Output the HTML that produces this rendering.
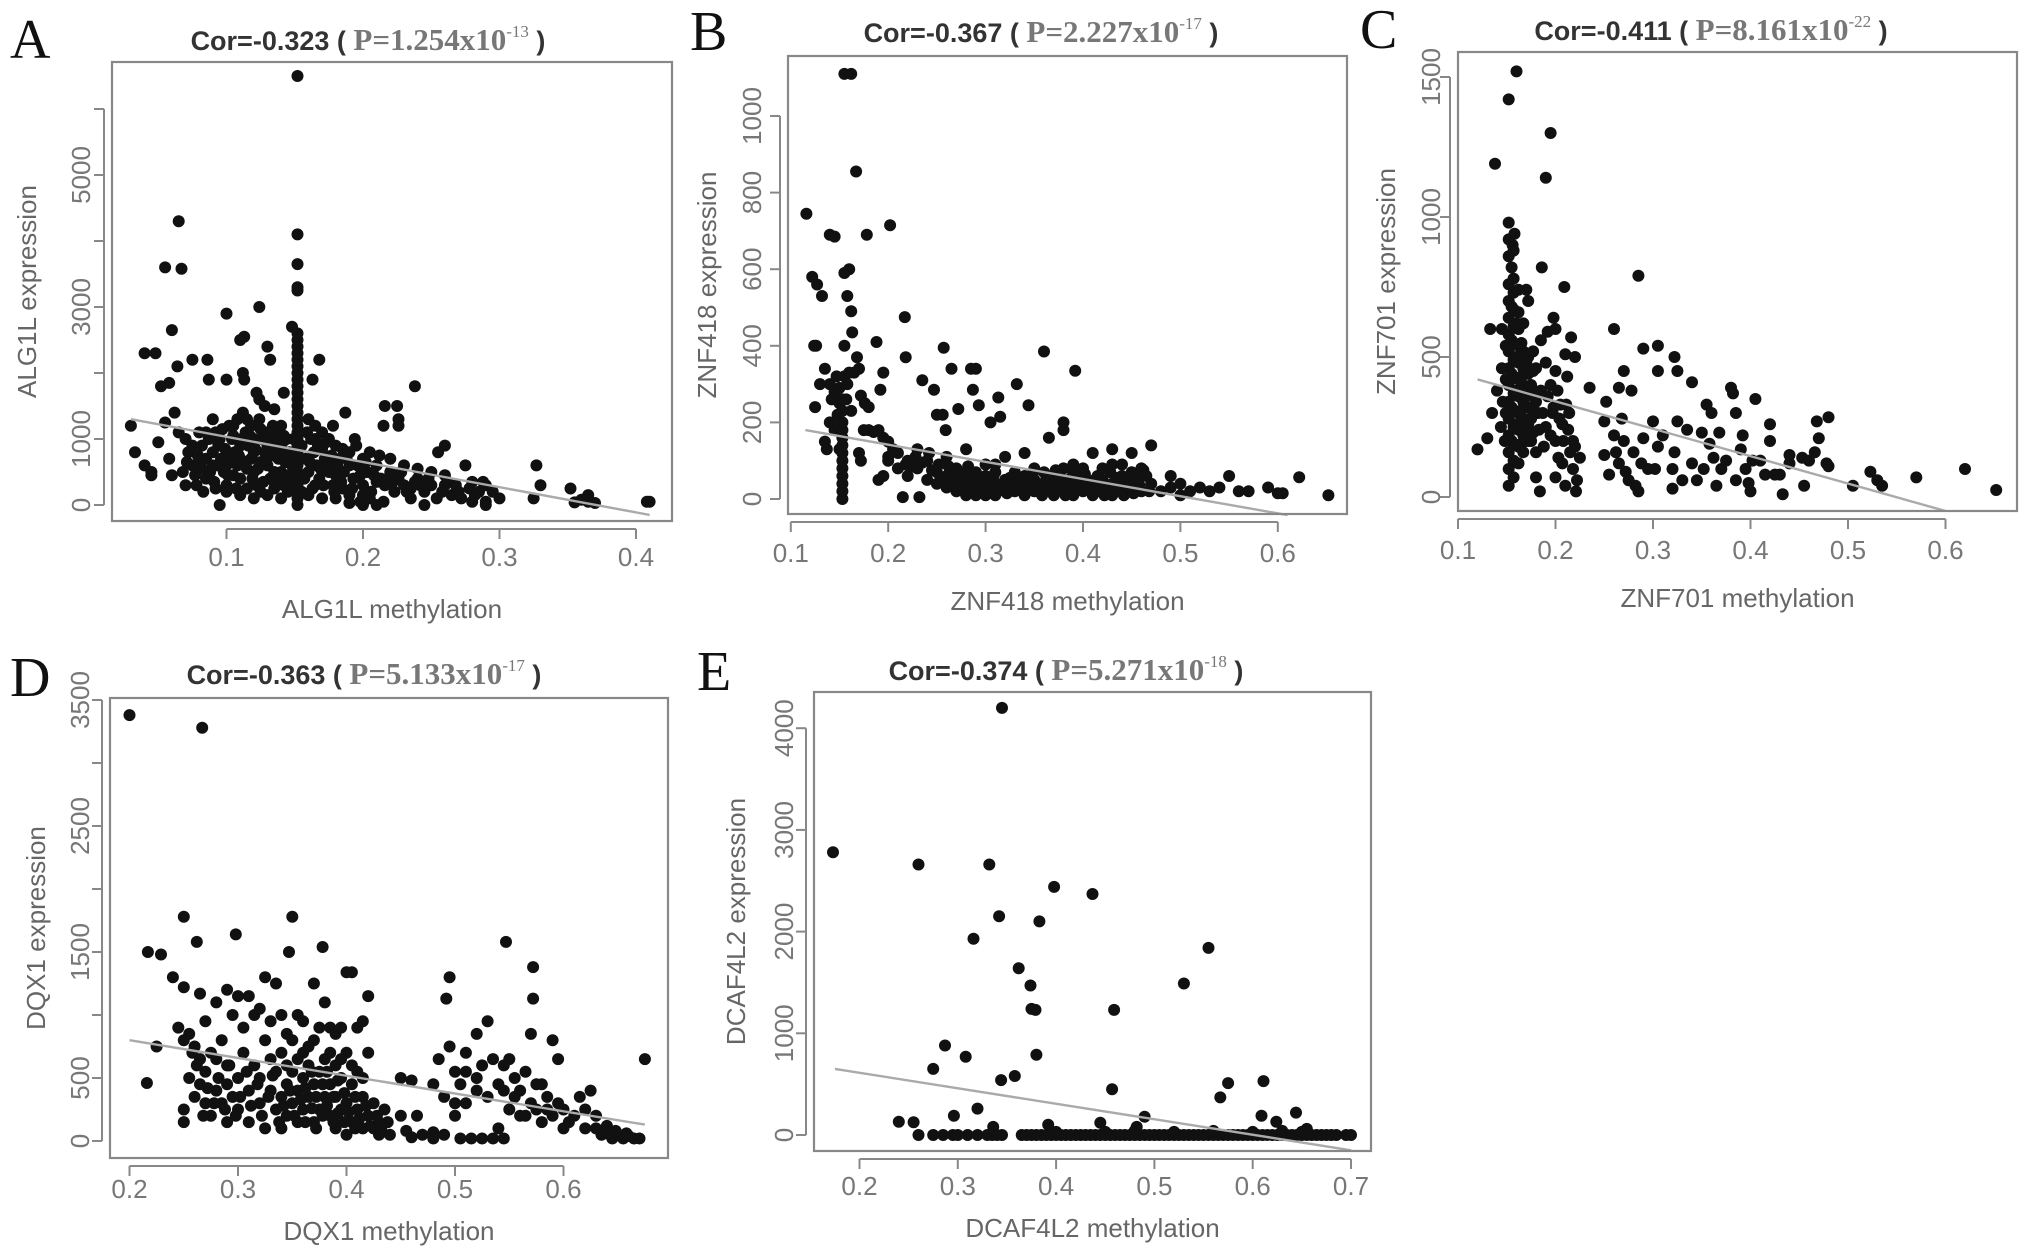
<!DOCTYPE html>
<html><head><meta charset="utf-8"><style>
html,body{margin:0;padding:0;background:#fff;}
svg{display:block;}
</style></head><body>
<svg id="fig" width="2031" height="1258" viewBox="0 0 2031 1258" xmlns="http://www.w3.org/2000/svg"></svg>
<script>
// ---------- DATA ----------
const aXTicks=[0.1,0.2,0.3,0.4];
const aYTicks=[0,1000,2000,3000,4000,5000,6000];
const aYLabelsFix=["0","1000","","3000","","5000",""];
const aPts=[[0.152,6500],[0.065,4300],[0.152,4100],[0.055,3600],[0.067,3580],[0.152,3650],[0.152,3300],[0.152,3250],[0.1,2900],[0.124,3000],[0.148,2700],[0.06,2650],[0.113,2550],[0.11,2500],[0.13,2400],[0.04,2300],[0.048,2300],[0.064,2100],[0.075,2200],[0.086,2200],[0.132,2200],[0.168,2200],[0.087,1900],[0.1,1900],[0.113,1900],[0.112,2000],[0.163,1900],[0.052,1800],[0.058,1850],[0.142,1700],[0.238,1800],[0.124,1600],[0.216,1500],[0.225,1500],[0.187,1400],[0.215,1200],[0.226,1300],[0.226,1200],[0.178,1200],[0.26,900],[0.255,800],[0.275,600],[0.327,600],[0.33,300],[0.352,250],[0.365,150],[0.41,50],[0.408,50],[0.03,1200],[0.033,800],
[0.152,0],[0.152,100],[0.152,200],[0.152,300],[0.152,400],[0.152,500],[0.152,600],[0.152,700],[0.152,800],[0.152,900],[0.152,1000],[0.152,1100],[0.152,1200],[0.152,1300],[0.152,1400],[0.152,1500],[0.152,1600],[0.152,1700],[0.152,1800],[0.152,1900],[0.152,2000],[0.152,2100],[0.152,2200],[0.152,2300],[0.152,2400],[0.152,2500],
[0.07,1000],[0.072,800],[0.075,600],[0.078,300],[0.08,1100],[0.082,900],[0.085,700],[0.088,500],[0.09,1300],[0.092,1100],[0.094,900],[0.096,700],[0.098,500],[0.1,300],[0.102,1200],[0.104,1000],[0.106,800],[0.108,600],[0.11,400],[0.112,1400],[0.114,1100],[0.116,900],[0.118,700],[0.12,500],[0.122,300],[0.124,1300],[0.126,1000],[0.128,800],[0.13,600],[0.132,400],[0.134,1200],[0.136,900],[0.138,700],[0.14,500],[0.142,300],[0.144,1000],[0.146,800],[0.148,600],[0.16,1300],[0.162,1000],[0.164,800],[0.166,600],[0.168,400],[0.17,1100],[0.172,700],[0.175,500],[0.178,300],[0.18,900],[0.183,700],[0.186,500],[0.19,800],[0.193,400],[0.196,600],[0.2,300],[0.2,700],[0.203,500],[0.206,200],[0.21,600],[0.213,400],[0.216,300],[0.22,500],[0.223,200],[0.226,400],[0.23,300],[0.235,250],[0.24,400],[0.245,200],[0.25,300],[0.254,100],[0.26,300],[0.27,200],[0.285,200],[0.29,0],[0.295,200],[0.28,50],[0.21,0],[0.2,0],[0.215,50],[0.245,0],[0.235,100],
[0.045,500],[0.05,950],[0.055,1250],[0.058,700],[0.062,1400],[0.065,1100],[0.068,500],[0.04,600],[0.045,450],[0.06,450],[0.07,300],[0.095,0],[0.12,100],[0.13,150],[0.14,100],[0.145,200],[0.17,100],[0.18,100],
[0.075,900],[0.08,650],[0.085,400],[0.09,800],[0.095,1000],[0.1,600],[0.105,450],[0.11,900],[0.115,550],[0.12,800],[0.125,650],[0.13,900],[0.135,500],[0.14,800],[0.145,650],[0.155,900],[0.158,700],[0.16,500],[0.165,1000],[0.17,850],[0.175,650],[0.18,450],[0.185,850],[0.19,600],[0.195,900],[0.2,500],[0.205,800],[0.21,350],[0.09,600],[0.1,800],[0.11,700],[0.12,1000],[0.13,1100],[0.14,1200],[0.108,1300],[0.118,1200],[0.128,1500],[0.122,1700],[0.135,1450],[0.165,1200],[0.175,1000],[0.155,200],[0.16,150],[0.165,300],[0.185,250],[0.19,150],[0.2,150],[0.25,500],[0.24,550],[0.22,700],[0.23,600],[0.26,450],[0.265,150],[0.28,350],[0.29,300],[0.365,50],[0.36,80],[0.355,40],[0.37,30],[0.325,100],[0.29,50],[0.3,100],
[0.077,450],[0.083,200],[0.087,1000],[0.091,350],[0.093,600],[0.097,1150],[0.099,850],[0.101,450],[0.103,650],[0.105,1050],[0.107,250],[0.109,750],[0.111,1000],[0.113,600],[0.115,250],[0.117,1050],[0.119,400],[0.121,850],[0.123,550],[0.125,1150],[0.127,350],[0.129,700],[0.131,1000],[0.133,750],[0.135,250],[0.137,1050],[0.139,400],[0.141,950],[0.143,650],[0.147,350],[0.149,1000],[0.157,400],[0.159,1100],[0.161,650],[0.163,250],[0.167,900],[0.169,550],[0.171,300],[0.173,950],[0.177,750],[0.179,200],[0.181,600],[0.184,350],[0.188,700],[0.192,250],[0.194,1000],[0.198,450],[0.202,650],[0.208,450],[0.212,750],[0.218,400],[0.222,350],[0.228,500],[0.232,200],[0.238,350],[0.242,300],[0.248,400],[0.258,200],[0.262,350],[0.268,300],[0.272,100],[0.278,250],[0.282,150],[0.288,350],[0.198,50],[0.19,30],[0.205,100],[0.11,150],[0.1,200],[0.125,200],[0.135,350],[0.145,450],[0.092,250],[0.082,550],[0.071,650],[0.079,750],[0.085,1100],[0.105,1200],[0.115,1300],[0.142,1050],[0.152,2600]];
const aLine=[[0.03,1300],[0.41,-150]];

const bXTicks=[0.1,0.2,0.3,0.4,0.5,0.6];
const bYTicks=[0,200,400,600,800,1000];
const bYLabels=["0","200","400","600","800","1000"];
const bPts=[[0.155,1110],[0.162,1110],[0.167,855],[0.116,745],[0.202,715],[0.14,690],[0.145,685],[0.178,690],[0.122,580],[0.127,560],[0.155,590],[0.16,600],[0.132,530],[0.158,530],[0.162,490],[0.217,475],[0.163,435],[0.188,410],[0.124,400],[0.126,400],[0.257,395],[0.36,385],[0.218,370],[0.168,370],[0.392,335],[0.155,400],[0.195,330],[0.265,340],[0.285,340],[0.29,340],[0.235,310],[0.332,300],[0.192,285],[0.247,285],[0.287,285],[0.313,265],[0.344,245],[0.272,235],[0.293,245],[0.125,240],[0.25,220],[0.256,220],[0.315,215],[0.305,200],[0.38,200],[0.38,180],[0.259,180],[0.365,160],[0.47,140],[0.43,130],[0.34,120],[0.41,120],[0.45,120],
[0.135,340],[0.14,300],[0.145,280],[0.15,250],[0.148,220],[0.152,200],[0.155,320],[0.158,300],[0.16,330],[0.165,330],[0.17,340],[0.172,270],[0.176,250],[0.18,240],[0.14,200],[0.135,150],[0.137,130],[0.145,180],[0.15,130],[0.142,260],[0.147,320],[0.15,290],[0.157,260],[0.162,230],[0.13,300],
[0.153,0],[0.153,20],[0.153,40],[0.153,60],[0.153,80],[0.153,100],[0.153,120],[0.153,140],[0.153,160],[0.153,180],[0.153,200],[0.153,230],[0.153,260],
[0.175,180],[0.18,180],[0.185,175],[0.19,180],[0.195,160],[0.2,110],[0.19,50],[0.195,60],[0.17,120],[0.172,100],
[0.2,100],[0.2,150],[0.21,80],[0.21,120],[0.215,5],[0.22,60],[0.22,100],[0.23,80],[0.23,130],[0.232,5],[0.24,50],[0.24,100],[0.25,40],[0.25,70],[0.26,30],[0.26,60],[0.26,110],[0.27,20],[0.27,50],[0.27,80],[0.28,10],[0.28,40],[0.28,70],[0.28,130],[0.29,10],[0.29,40],[0.29,70],[0.3,10],[0.3,30],[0.3,60],[0.3,90],[0.31,10],[0.31,40],[0.31,70],[0.32,20],[0.32,50],[0.32,110],[0.33,20],[0.33,40],[0.33,70],[0.34,10],[0.34,40],[0.34,60],[0.35,20],[0.35,50],[0.36,20],[0.36,40],[0.36,70],[0.37,10],[0.37,40],[0.37,60],[0.38,20],[0.38,50],[0.38,80],[0.39,10],[0.39,40],[0.39,90],[0.4,20],[0.4,50],[0.4,80],[0.41,10],[0.41,40],[0.42,20],[0.42,50],[0.43,10],[0.43,40],[0.43,90],[0.44,20],[0.44,60],[0.45,30],[0.45,70],[0.46,20],[0.46,60],[0.47,40],[0.48,20],[0.49,30],[0.49,60],[0.5,10],[0.5,40],[0.51,20],[0.52,30],[0.53,20],[0.54,30],[0.55,60],[0.56,20],[0.57,20],[0.59,30],[0.6,15],[0.605,15],[0.622,57],[0.652,10],
[0.295,25],[0.305,45],[0.315,25],[0.325,55],[0.335,30],[0.345,45],[0.355,30],[0.365,55],[0.375,25],[0.385,35],[0.395,60],[0.405,30],[0.415,60],[0.425,30],[0.435,55],[0.445,35],[0.455,45],[0.465,60],[0.285,55],[0.275,60],[0.265,45],[0.255,55],[0.245,75],[0.235,95],[0.225,85],
[0.298,50],[0.302,20],[0.308,60],[0.312,30],[0.318,40],[0.322,15],[0.328,35],[0.332,55],[0.338,20],[0.342,30],[0.348,65],[0.352,35],[0.358,10],[0.362,50],[0.368,25],[0.372,75],[0.378,35],[0.382,10],[0.388,55],[0.392,25],[0.398,35],[0.402,65],[0.408,25],[0.412,50],[0.418,35],[0.422,10],[0.428,70],[0.432,25],[0.438,40],[0.442,10],[0.448,50],[0.452,15],[0.458,35],[0.462,75],[0.468,20],[0.288,25],[0.282,85],[0.278,30],[0.268,65],[0.262,85],[0.252,90],[0.242,120],[0.228,110],[0.218,90],[0.205,130],[0.31,90],[0.35,80],[0.39,70],[0.42,80],[0.44,90],[0.46,80]];
const bLine=[[0.115,180],[0.61,-42]];

const cXTicks=[0.1,0.2,0.3,0.4,0.5,0.6];
const cYTicks=[0,500,1000,1500];
const cYLabels=["0","500","1000","1500"];
const cPts=[[0.16,1520],[0.152,1420],[0.195,1300],[0.138,1190],[0.19,1140],[0.285,790],[0.186,820],[0.209,750],[0.26,600],[0.198,640],[0.133,600],[0.145,600],[0.29,530],[0.305,540],[0.322,500],[0.325,450],[0.305,450],[0.235,390],[0.265,390],[0.27,450],[0.34,410],[0.38,390],[0.382,370],[0.405,350],[0.355,330],[0.36,300],[0.385,300],[0.42,260],[0.42,200],[0.468,270],[0.48,285],[0.47,210],[0.466,160],[0.478,120],[0.48,110],[0.453,140],[0.44,120],[0.43,80],[0.433,10],[0.4,20],[0.505,40],[0.523,90],[0.53,60],[0.535,40],[0.57,70],[0.62,100],[0.652,25],[0.12,170],[0.13,210],[0.135,300],[0.14,380],
[0.152,40],[0.152,100],[0.152,160],[0.152,220],[0.152,280],[0.152,340],[0.152,400],[0.152,460],[0.152,520],[0.152,580],[0.152,640],[0.152,700],[0.152,760],[0.152,860],[0.152,920],[0.152,980],
[0.157,70],[0.157,130],[0.157,190],[0.157,250],[0.157,310],[0.157,370],[0.157,430],[0.157,490],[0.157,550],[0.157,610],[0.157,670],[0.157,730],[0.157,780],[0.157,880],
[0.162,120],[0.162,180],[0.162,240],[0.162,300],[0.162,360],[0.162,420],[0.162,480],[0.162,540],[0.162,600],[0.162,660],[0.162,740],
[0.167,160],[0.167,220],[0.167,280],[0.167,340],[0.167,400],[0.167,460],[0.167,520],[0.167,620],[0.17,740],[0.172,700],
[0.172,200],[0.172,260],[0.172,320],[0.172,380],[0.172,440],[0.172,500],[0.177,230],[0.177,300],[0.177,370],[0.177,450],[0.177,520],[0.18,160],[0.18,70],[0.184,20],[0.182,300],[0.185,380],[0.185,560],[0.19,250],[0.19,480],[0.192,590],[0.195,400],[0.197,300],[0.2,200],[0.2,450],[0.2,600],[0.203,140],[0.205,330],[0.207,260],[0.21,510],[0.21,40],[0.212,430],[0.214,300],[0.216,570],[0.218,200],[0.218,100],[0.22,180],[0.22,500],[0.221,20],[0.222,60],[0.225,140],[0.2,70],[0.207,120],
[0.25,270],[0.25,150],[0.252,340],[0.255,80],[0.26,220],[0.262,160],[0.265,120],[0.268,280],[0.27,200],[0.272,90],[0.275,60],[0.278,380],[0.28,160],[0.282,40],[0.285,20],[0.288,120],[0.29,210],[0.295,100],[0.3,270],[0.302,100],[0.305,180],[0.31,220],[0.32,100],[0.32,30],[0.322,160],[0.325,270],[0.33,60],[0.335,240],[0.34,120],[0.345,60],[0.35,230],[0.352,100],[0.358,190],[0.362,140],[0.365,40],[0.368,230],[0.37,100],[0.375,130],[0.385,60],[0.39,170],[0.392,220],[0.395,100],[0.398,50],[0.402,130],[0.41,130],[0.415,80],[0.425,80],[0.44,150],[0.455,40],[0.46,130],
[0.149,300],[0.149,420],[0.149,540],[0.155,200],[0.155,320],[0.155,440],[0.155,560],[0.155,680],[0.155,820],[0.16,260],[0.16,380],[0.16,500],[0.16,620],[0.165,190],[0.165,310],[0.165,430],[0.165,550],[0.17,240],[0.17,360],[0.17,480],[0.175,280],[0.175,400],[0.175,200],[0.18,340],[0.18,460],[0.183,240],[0.187,300],[0.188,180],[0.192,360],[0.195,220],[0.198,320],[0.202,380],[0.204,280],[0.208,200],[0.211,330],[0.213,240],[0.215,160],[0.145,460],[0.146,340],[0.148,200],[0.144,250],[0.158,940],[0.156,900]];
const cLine=[[0.12,420],[0.6,-50]];

const dXTicks=[0.2,0.3,0.4,0.5,0.6];
const dYTicks=[0,500,1000,1500,2000,2500,3000,3500];
const dYLabels=["0","500","","1500","","2500","","3500"];
const dPts=[[0.2,3380],[0.267,3280],[0.25,1780],[0.35,1780],[0.298,1640],[0.262,1580],[0.547,1580],[0.217,1500],[0.229,1480],[0.347,1500],[0.378,1540],[0.572,1380],[0.4,1340],[0.405,1340],[0.495,1300],[0.24,1300],[0.25,1220],[0.265,1170],[0.42,1150],[0.492,1130],[0.572,1130],[0.216,460],[0.225,750],[0.675,650],
[0.245,900],[0.25,800],[0.255,850],[0.26,750],[0.265,650],[0.27,950],[0.275,700],[0.28,1100],[0.285,800],[0.29,1200],[0.29,600],[0.295,1000],[0.3,1150],[0.305,900],[0.31,1150],[0.315,1000],[0.32,1050],[0.325,1300],[0.33,950],[0.335,1250],[0.34,1000],[0.345,850],[0.355,1000],[0.36,950],[0.37,1250],[0.375,900],[0.38,1100],[0.385,900],[0.39,850],[0.395,900],[0.41,900],[0.415,950],
[0.25,150],[0.25,250],[0.255,500],[0.26,350],[0.265,450],[0.27,300],[0.27,550],[0.275,200],[0.28,400],[0.28,650],[0.285,300],[0.29,450],[0.29,150],[0.295,350],[0.3,500],[0.3,250],[0.305,700],[0.31,400],[0.31,150],[0.315,600],[0.32,300],[0.32,500],[0.325,800],[0.325,100],[0.33,400],[0.33,650],[0.335,250],[0.335,550],[0.34,100],[0.34,350],[0.34,700],[0.345,200],[0.345,450],[0.35,300],[0.35,550],[0.35,800],[0.355,150],[0.355,400],[0.36,250],[0.36,500],[0.36,700],[0.365,350],[0.365,600],[0.37,150],[0.37,450],[0.37,800],[0.375,250],[0.375,550],[0.38,350],[0.38,650],[0.385,200],[0.385,450],[0.39,100],[0.39,350],[0.39,600],[0.395,250],[0.395,500],[0.4,50],[0.4,300],[0.4,700],[0.405,150],[0.405,450],[0.41,250],[0.41,550],[0.415,100],[0.415,350],[0.42,200],[0.42,700],[0.425,100],[0.425,300],[0.43,50],[0.43,150],[0.435,250],[0.44,50],[0.45,200],[0.455,80],[0.46,30],[0.465,200],[0.47,50],[0.48,70],[0.45,500],[0.46,480],
[0.48,450],[0.485,650],[0.49,350],[0.495,750],[0.5,200],[0.5,550],[0.505,450],[0.505,20],[0.51,300],[0.51,700],[0.515,20],[0.52,500],[0.52,850],[0.525,600],[0.525,20],[0.53,350],[0.53,950],[0.535,650],[0.54,100],[0.54,450],[0.545,20],[0.545,400],[0.55,650],[0.55,250],[0.555,500],[0.56,200],[0.56,400],[0.565,550],[0.57,300],[0.57,850],[0.575,250],[0.58,450],[0.58,150],[0.585,350],[0.59,200],[0.59,800],[0.595,650],[0.6,250],[0.6,100],[0.61,200],[0.615,350],[0.62,100],[0.625,400],[0.63,200],[0.635,50],[0.64,120],[0.645,20],[0.65,50],[0.655,20],[0.66,40],[0.665,20],[0.67,20],[0.535,20],[0.48,20],[0.49,50],
[0.322,200],[0.328,350],[0.332,520],[0.338,150],[0.342,280],[0.348,400],[0.352,200],[0.358,330],[0.362,150],[0.362,420],[0.368,260],[0.368,550],[0.372,350],[0.372,100],[0.378,200],[0.378,450],[0.382,280],[0.382,550],[0.388,150],[0.388,350],[0.392,220],[0.392,480],[0.398,150],[0.398,380],[0.402,230],[0.408,100],[0.408,350],[0.412,180],[0.418,280],[0.422,120],[0.428,200],[0.432,100],[0.438,150],[0.312,280],[0.318,450],[0.308,550],[0.302,350],[0.298,200],[0.292,600],[0.288,250],[0.282,500],[0.278,300],[0.272,420],[0.268,200],[0.262,600],[0.258,700],[0.345,600],[0.355,650],[0.365,750],[0.385,700],[0.395,650],[0.405,600],[0.415,500],[0.545,600],[0.555,350],[0.565,200],[0.575,450],[0.585,250],[0.595,300],[0.605,150],[0.62,250],[0.63,100],[0.64,60],[0.648,80],[0.658,60],[0.52,400],[0.51,550],[0.5,300]];
const dLine=[[0.2,800],[0.675,130]];

const eXTicks=[0.2,0.3,0.4,0.5,0.6,0.7];
const eYTicks=[0,1000,2000,3000,4000];
const eYLabels=["0","1000","2000","3000","4000"];
const ePts=[[0.173,2780],[0.26,2660],[0.332,2660],[0.345,4200],[0.398,2440],[0.437,2370],[0.342,2150],[0.383,2100],[0.316,1930],[0.555,1840],[0.362,1640],[0.374,1470],[0.53,1490],[0.375,1240],[0.379,1230],[0.459,1230],[0.287,880],[0.308,770],[0.38,790],[0.275,650],[0.344,540],[0.358,580],[0.457,450],[0.575,510],[0.611,530],[0.567,370],[0.32,260],[0.296,190],[0.24,130],[0.255,125],[0.609,190],[0.644,220],[0.49,180],[0.445,120],[0.392,100],[0.336,80],[0.482,80],[0.624,130],[0.655,60],
[0.26,0],[0.275,0],[0.285,0],[0.295,0],[0.3,0],[0.31,0],[0.32,0],[0.33,0],[0.335,0],[0.34,0],[0.345,0],[0.365,0],[0.37,0],[0.375,0],[0.38,0],[0.385,0],[0.39,0],[0.395,0],[0.4,0],[0.405,0],[0.41,0],[0.415,0],[0.42,0],[0.425,0],[0.43,0],[0.435,0],[0.44,0],[0.445,0],[0.45,0],[0.455,0],[0.46,0],[0.465,0],[0.47,0],[0.475,0],[0.48,0],[0.485,0],[0.49,0],[0.495,0],[0.5,0],[0.505,0],[0.51,0],[0.515,0],[0.52,0],[0.525,0],[0.53,0],[0.535,0],[0.54,0],[0.545,0],[0.55,0],[0.555,0],[0.56,0],[0.565,0],[0.57,0],[0.575,0],[0.58,0],[0.585,0],[0.59,0],[0.595,0],[0.6,0],[0.605,0],[0.61,0],[0.615,0],[0.62,0],[0.625,0],[0.63,0],[0.635,0],[0.64,0],[0.645,0],[0.65,0],[0.655,0],[0.66,0],[0.665,0],[0.67,0],[0.675,0],[0.68,0],[0.685,0],[0.695,0],[0.7,0],
[0.4,30],[0.45,30],[0.48,40],[0.52,30],[0.56,40],[0.6,30],[0.63,40],[0.65,30]];
const eLine=[[0.175,650],[0.7,-150]];

// ---------- DRAW ----------
const NS="http://www.w3.org/2000/svg";
const svg=document.getElementById('fig');
function mk(tag,attrs,parent){const e=document.createElementNS(NS,tag);for(const k in attrs)e.setAttribute(k,attrs[k]);(parent||svg).appendChild(e);return e;}

const panels=[
 {id:'a',letter:'A',lx:10,ly:58,L:112,R:672,T:62,B:521,x0:0.1,x0px:226.5,xs:1365,y0px:505,ys:0.066,xt:aXTicks,yt:aYTicks,yl:aYLabelsFix,pts:aPts,line:aLine,tcx:368,tcy:50,cor:'-0.323',pm:'1.254',pe:'-13',gene:'ALG1L',tickOff:45,xlOff:97,ytOff:31,ylOff:85},
 {id:'b',letter:'B',lx:690,ly:50,L:788,R:1347,T:56,B:514,x0:0.1,x0px:790.8,xs:974,y0px:499,ys:0.383,xt:bXTicks,yt:bYTicks,yl:bYLabels,pts:bPts,line:bLine,tcx:1041,tcy:42,cor:'-0.367',pm:'2.227',pe:'-17',gene:'ZNF418',tickOff:48,xlOff:96,ytOff:36,ylOff:81},
 {id:'c',letter:'C',lx:1360,ly:48,L:1458,R:2017,T:52,B:511,x0:0.1,x0px:1458,xs:975,y0px:497,ys:0.28,xt:cXTicks,yt:cYTicks,yl:cYLabels,pts:cPts,line:cLine,tcx:1711,tcy:40,cor:'-0.411',pm:'8.161',pe:'-22',gene:'ZNF701',tickOff:48,xlOff:96,ytOff:27,ylOff:72},
 {id:'d',letter:'D',lx:10,ly:696,L:110,R:668,T:698,B:1158,x0:0.2,x0px:129.5,xs:1085,y0px:1141,ys:0.126,xt:dXTicks,yt:dYTicks,yl:dYLabels,pts:dPts,line:dLine,tcx:364,tcy:684,cor:'-0.363',pm:'5.133',pe:'-17',gene:'DQX1',tickOff:40,xlOff:82,ytOff:30,ylOff:74},
 {id:'e',letter:'E',lx:697,ly:690,L:814,R:1371,T:692,B:1151,x0:0.2,x0px:859.5,xs:983,y0px:1135,ys:0.1017,xt:eXTicks,yt:eYTicks,yl:eYLabels,pts:ePts,line:eLine,tcx:1066,tcy:680,cor:'-0.374',pm:'5.271',pe:'-18',gene:'DCAF4L2',tickOff:44,xlOff:86,ytOff:30,ylOff:78}
];

panels.forEach(p=>{
  const X=v=>p.x0px+(v-p.x0)*p.xs;
  const Y=v=>p.y0px-v*p.ys;
  const g=mk('g',{});
  
  
  const let_=mk('text',{x:p.lx,y:p.ly,'font-family':'Liberation Serif, serif','font-size':'56','fill':'#111'},g);
  let_.textContent=p.letter;
  
  
  const t=mk('text',{x:p.tcx,y:p.tcy,'text-anchor':'middle'},g);
  
  
  const s1=mk('tspan',{'font-family':'Liberation Sans, sans-serif','font-weight':'bold','font-size':'27','fill':'#333'},t);s1.textContent='Cor='+p.cor+' ( ';
  const s2=mk('tspan',{'font-family':'Liberation Serif, serif','font-weight':'bold','font-size':'31','fill':'#777'},t);s2.textContent='P='+p.pm+'x10';
  const s3=mk('tspan',{'font-family':'Liberation Serif, serif','font-size':'17','fill':'#777','dy':'-13'},t);s3.textContent=p.pe;
  const s4=mk('tspan',{'font-family':'Liberation Sans, sans-serif','font-weight':'bold','font-size':'27','fill':'#333','dy':'13'},t);s4.textContent=' )';
  const pg=mk('g',{fill:'#111'},g);
  
  
  p.pts.forEach(d=>{
    const c=mk('circle',{cx:X(d[0]).toFixed(1),cy:Y(d[1]).toFixed(1),r:6},pg);
    
    
  });
  const ln=mk('line',{x1:X(p.line[0][0]),y1:Y(p.line[0][1]),x2:X(p.line[1][0]),y2:Y(p.line[1][1]),stroke:'#aaa','stroke-width':2.4},g);
  
  
  const box=mk('rect',{x:p.L,y:p.T,width:p.R-p.L,height:p.B-p.T,fill:'none',stroke:'#888','stroke-width':2.2},g);
  
  
  const xa=mk('g',{},g);
  
  
  mk('line',{x1:X(p.xt[0]),x2:X(p.xt[p.xt.length-1]),y1:p.B+8,y2:p.B+8,stroke:'#888','stroke-width':2},xa);
  p.xt.forEach(v=>{
    mk('line',{x1:X(v),x2:X(v),y1:p.B+8,y2:p.B+18,stroke:'#888','stroke-width':2},xa);
    const tl=mk('text',{x:X(v),y:p.B+p.tickOff,'text-anchor':'middle','font-family':'Liberation Sans, sans-serif','font-size':'26','fill':'#777'},xa);
    tl.textContent=String(v);
    
    
  });
  const ya=mk('g',{},g);
  
  
  const yv=p.yt.filter(v=>Y(v)>=p.T-2);
  mk('line',{x1:p.L-8,x2:p.L-8,y1:Y(yv[0]),y2:Y(yv[yv.length-1]),stroke:'#888','stroke-width':2},ya);
  p.yt.forEach((v,i)=>{
    if(Y(v)<p.T-2) return;
    mk('line',{x1:p.L-8,x2:p.L-18,y1:Y(v),y2:Y(v),stroke:'#888','stroke-width':2},ya);
    if(p.yl[i]){
      const cx=p.L-p.ytOff, cy=Y(v);
      const tl=mk('text',{x:cx,y:cy,'text-anchor':'middle','dominant-baseline':'central','font-family':'Liberation Sans, sans-serif','font-size':'26','fill':'#777',transform:`rotate(-90 ${cx} ${cy})`},ya);
      tl.textContent=p.yl[i];
      
      
    }
  });
  const xl=mk('text',{x:(p.L+p.R)/2,y:p.B+p.xlOff,'text-anchor':'middle','font-family':'Liberation Sans, sans-serif','font-size':'26','fill':'#666'},g);
  xl.textContent=p.gene+' methylation';
  
  
  const cx=p.L-p.ylOff, cy=(p.T+p.B)/2;
  const yl=mk('text',{x:cx,y:cy,'text-anchor':'middle','dominant-baseline':'central','font-family':'Liberation Sans, sans-serif','font-size':'26','fill':'#666',transform:`rotate(-90 ${cx} ${cy})`},g);
  yl.textContent=p.gene+' expression';
  
  
});
</script>
</body></html>
